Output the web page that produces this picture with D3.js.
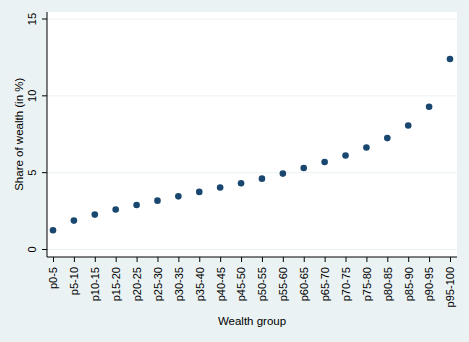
<!DOCTYPE html>
<html><head><meta charset="utf-8">
<script src="https://cdn.jsdelivr.net/npm/d3@7"></script>
<style>body{margin:0;background:#eaf2f3;} svg{display:block;}</style>
</head><body>
<script>
const categories = ["p0-5","p5-10","p10-15","p15-20","p20-25","p25-30","p30-35","p35-40","p40-45","p45-50","p50-55","p55-60","p60-65","p65-70","p70-75","p75-80","p80-85","p85-90","p90-95","p95-100"];
const shares = [1.25,1.88,2.27,2.6,2.9,3.18,3.46,3.75,4.03,4.31,4.61,4.94,5.3,5.69,6.12,6.64,7.25,8.07,9.29,12.4];
const yTicks = [0,5,10,15];

const W = 469, H = 342;
const plot = {left:47, right:457, top:12, bottom:257};
const svg = d3.select("body").append("svg").attr("width",W).attr("height",H);
svg.append("rect").attr("width",W).attr("height",H).attr("fill","#eaf2f3");
svg.append("rect").attr("x",plot.left).attr("y",plot.top).attr("width",plot.right-plot.left).attr("height",plot.bottom-plot.top).attr("fill","#ffffff");

const x = d3.scalePoint().domain(categories).range([53,450]);
const y = d3.scaleLinear().domain([0,15]).range([249.5,19]);
const font = "Liberation Sans, Arial, sans-serif";

// grid
svg.append("g").selectAll("line").data(yTicks).join("line")
  .attr("x1",plot.left).attr("x2",plot.right)
  .attr("y1",d=>y(d)).attr("y2",d=>y(d))
  .attr("stroke","#eaf2f3").attr("stroke-width",1);

// y axis
const ya = svg.append("g").attr("transform",`translate(${plot.left},0)`)
  .call(d3.axisLeft(y).tickValues(yTicks).tickSize(5).tickPadding(3).tickSizeOuter(0));
ya.select(".domain").attr("d",`M0,${plot.top}V${plot.bottom}`).attr("stroke","#000");
ya.selectAll(".tick line").attr("stroke","#000");
ya.selectAll(".tick text").attr("font-family",font).attr("font-size","11px").attr("fill","#000")
  .each(function(d){
    d3.select(this).attr("x",0).attr("y",-11).attr("dy",0).attr("text-anchor","middle")
      .attr("transform",`translate(0,${y(d)}) rotate(-90)`);
  });
ya.selectAll(".tick").attr("transform",null);
ya.selectAll(".tick line").attr("transform",d=>`translate(0,${y(d)})`);

// x axis
const xa = svg.append("g").attr("transform",`translate(0,${plot.bottom})`)
  .call(d3.axisBottom(x).tickSize(5).tickSizeOuter(0));
xa.select(".domain").attr("d",`M${plot.left},0H${plot.right}`).attr("stroke","#000");
xa.selectAll(".tick line").attr("stroke","#000");
xa.selectAll(".tick text").attr("font-family",font).attr("font-size","11px").attr("fill","#000")
  .attr("text-anchor","end").attr("dy","0.35em")
  .attr("transform","rotate(-90)").attr("x",-10).attr("y",0);

// titles
svg.append("text").attr("transform",`translate(19,${(19+249.5)/2}) rotate(-90)`)
  .attr("text-anchor","middle").attr("dy","0.35em")
  .attr("font-family",font).attr("font-size","11.5px").text("Share of wealth (in %)");
svg.append("text").attr("x",(plot.left+plot.right)/2).attr("y",321).attr("dy","0.35em")
  .attr("text-anchor","middle").attr("font-family",font).attr("font-size","11.5px").text("Wealth group");

// dots
svg.append("g").selectAll("circle").data(categories).join("circle")
  .attr("cx",d=>x(d)).attr("cy",(d,i)=>y(shares[i])).attr("r",3.3).attr("fill","#1a476f");
</script>
</body></html>
